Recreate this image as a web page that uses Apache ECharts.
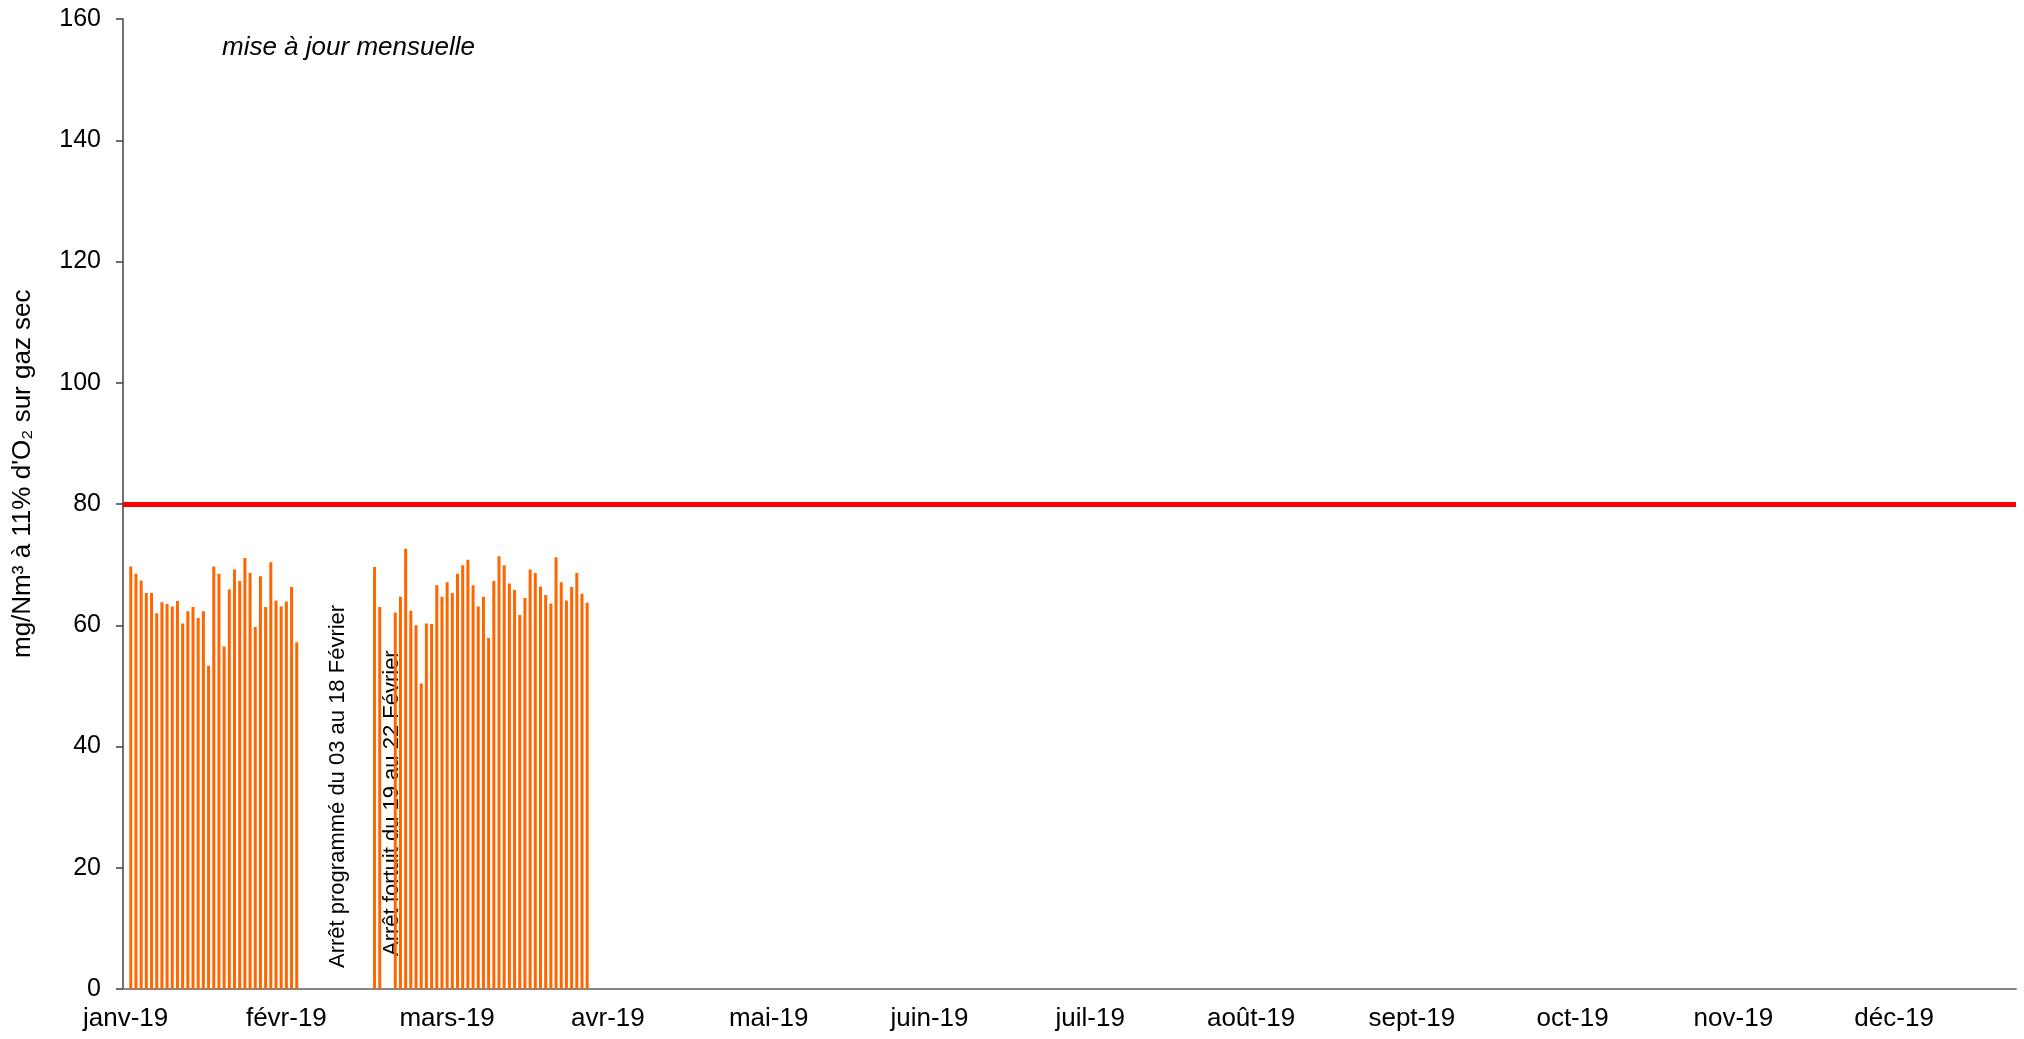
<!DOCTYPE html>
<html>
<head>
<meta charset="utf-8">
<script src="https://cdn.jsdelivr.net/npm/echarts@6/dist/echarts.min.js"></script>
<style>
  html, body { margin: 0; padding: 0; background: #fff; }
  #chart { width: 2024px; height: 1039px; }
</style>
</head>
<body>
<div id="chart"></div>
<script>
const year = 2019;
const monthNames = ['janv', 'févr', 'mars', 'avr', 'mai', 'juin', 'juil', 'août', 'sept', 'oct', 'nov', 'déc'];

// daily values, mg/Nm3 at 11% O2
const janFebStart = '2019-01-02';
const janFebValues = [
  69.7, 68.5, 67.4, 65.3, 65.3, 62.0, 63.8, 63.5, 63.1, 64.0, 60.3,
  62.3, 63.0, 61.2, 62.3, 53.3, 69.7, 68.5, 56.5, 65.9, 69.2, 67.3,
  71.1, 68.6, 59.7, 68.1, 63.0, 70.4, 64.1, 63.1, 63.9, 66.3, 57.2
];
const midFebStart = '2019-02-18';
const midFebValues = [69.6, 63.0];
const febMarStart = '2019-02-22';
const febMarValues = [
  62.1, 64.7, 72.6, 62.4, 60.0, 50.4, 60.3, 60.2, 66.6, 64.7, 67.1,
  65.3, 68.5, 69.9, 70.8, 66.6, 63.1, 64.7, 57.9, 67.3, 71.4, 69.9,
  66.9, 65.8, 61.7, 64.5, 69.2, 68.6, 66.4, 65.0, 63.6, 71.2, 67.1,
  64.1, 66.3, 68.6, 65.2, 63.7
];
const limitValue = 80;
const yTicks = [0, 20, 40, 60, 80, 100, 120, 140, 160];

function iso(d) {
  return d.toISOString().slice(0, 10);
}

const days = [];
for (let d = new Date(Date.UTC(year, 0, 1)); d.getUTCFullYear() === year; d.setUTCDate(d.getUTCDate() + 1)) {
  days.push(iso(d));
}

const values = days.map(() => null);
function place(start, arr) {
  const i0 = days.indexOf(start);
  arr.forEach((v, i) => { values[i0 + i] = v; });
}
place(janFebStart, janFebValues);
place(midFebStart, midFebValues);
place(febMarStart, febMarValues);

function monthLabel(value) {
  const d = new Date(value + 'T00:00:00Z');
  return monthNames[d.getUTCMonth()] + '-' + String(d.getUTCFullYear()).slice(2);
}

const font = 'Liberation Sans, Arial, sans-serif';
const chart = echarts.init(document.getElementById('chart'));

chart.setOption({
  animation: false,
  grid: { left: 123, right: 8, top: 19, bottom: 50 },
  xAxis: {
    type: 'category',
    data: days,
    boundaryGap: true,
    axisLine: { show: true, lineStyle: { color: '#868686', width: 2 } },
    axisTick: { show: false },
    axisLabel: {
      interval: 30,
      formatter: monthLabel,
      color: '#000',
      fontFamily: font,
      fontSize: 26,
      margin: 17
    }
  },
  yAxis: {
    type: 'value',
    min: yTicks[0],
    max: yTicks[yTicks.length - 1],
    interval: 20,
    splitLine: { show: false },
    axisLine: { show: true, lineStyle: { color: '#404040', width: 1.5 } },
    axisTick: { show: true, inside: false, length: 7, lineStyle: { color: '#404040', width: 1.5 } },
    axisLabel: { color: '#000', fontFamily: font, fontSize: 25, margin: 22 }
  },
  series: [
    {
      type: 'bar',
      data: values,
      barWidth: 3,
      itemStyle: { color: '#FF6600' },
      markLine: {
        symbol: 'none',
        silent: true,
        label: { show: false },
        lineStyle: { color: '#FF0000', width: 5, type: 'solid' },
        data: [{ yAxis: limitValue }]
      }
    }
  ],
  graphic: [
    {
      type: 'text',
      x: 222, y: 48,
      style: {
        text: 'mise à jour mensuelle',
        font: 'italic 26px ' + font,
        fill: '#000',
        verticalAlign: 'middle'
      }
    },
    {
      type: 'text',
      x: 23, y: 658,
      rotation: Math.PI / 2,
      style: {
        text: 'mg/Nm³ à 11% d\'O₂ sur gaz sec',
        font: '26px ' + font,
        fill: '#000',
        align: 'left',
        verticalAlign: 'middle'
      }
    },
    {
      type: 'text',
      x: 338, y: 968,
      rotation: Math.PI / 2,
      style: {
        text: 'Arrêt programmé du 03 au 18 Février',
        font: '22px ' + font,
        fill: '#000',
        align: 'left',
        verticalAlign: 'middle'
      }
    },
    {
      type: 'text',
      x: 392, y: 956,
      rotation: Math.PI / 2,
      style: {
        text: 'Arrêt fortuit du 19 au 22 Février',
        font: '22px ' + font,
        fill: '#000',
        align: 'left',
        verticalAlign: 'middle'
      }
    }
  ]
});
</script>
</body>
</html>
